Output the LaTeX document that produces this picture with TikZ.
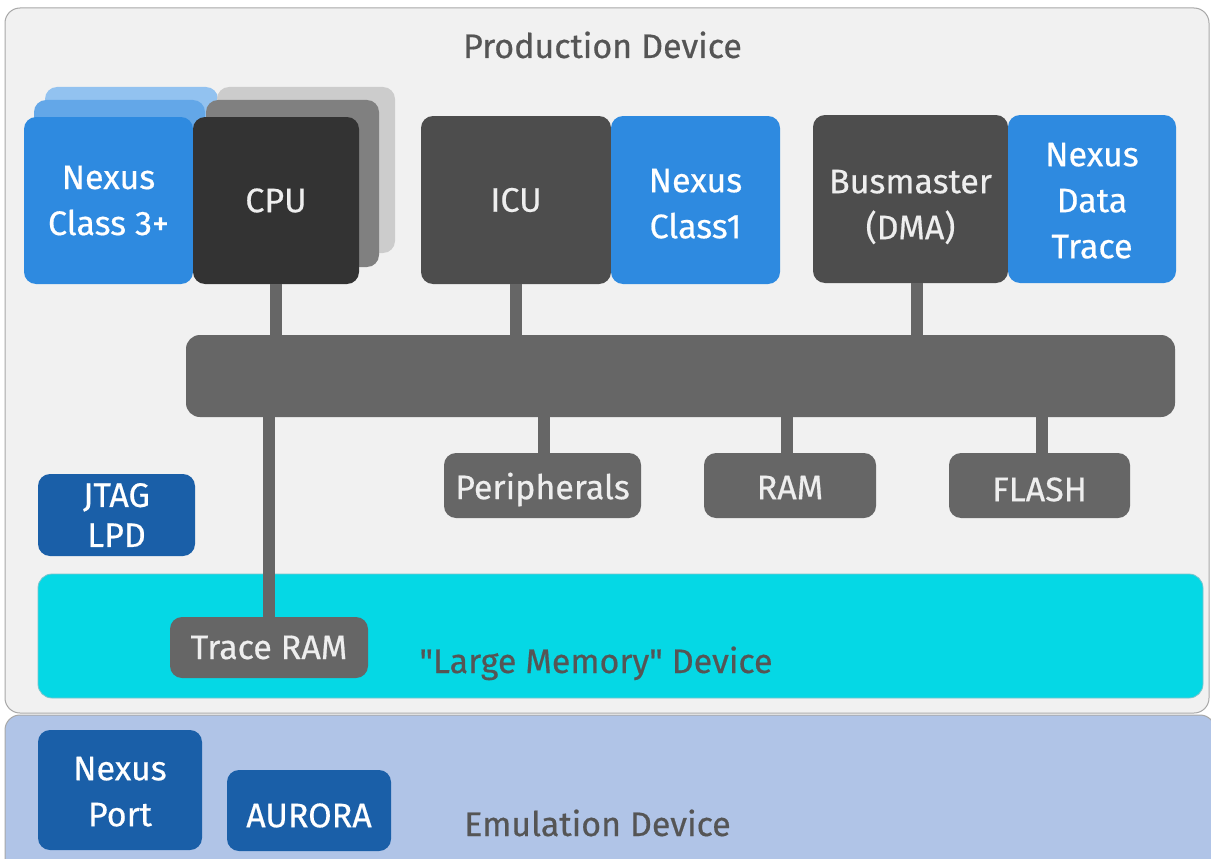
\documentclass[tikz,border=0pt]{standalone}
\usepackage{fontspec}
\setmainfont{Fira Sans}[Ligatures=TeXOff, FakeBold=0.5]
\usetikzlibrary{calc}
\newcommand\lowtext[2]{\raisebox{-#1}[\height][\depth]{\begin{tabular}{@{}c@{}}#2\end{tabular}}}
\definecolor{prodbg}{HTML}{F1F1F1}
\definecolor{bordergray}{HTML}{A8A8A8}
\definecolor{emubg}{HTML}{B0C4E7}
\definecolor{nxblue}{HTML}{2E8AE0}
\definecolor{nxblueB}{HTML}{63A7E8}
\definecolor{nxblueC}{HTML}{92C2F0}
\definecolor{cpudark}{HTML}{333333}
\definecolor{grayB}{HTML}{808080}
\definecolor{grayC}{HTML}{CCCCCC}
\definecolor{unitdark}{HTML}{4D4D4D}
\definecolor{busgray}{HTML}{666666}
\definecolor{darkblue}{HTML}{1A5FA8}
\definecolor{cyanmem}{HTML}{05D8E5}
\definecolor{cyanedge}{HTML}{7CC4CC}
\definecolor{lblgray}{HTML}{555555}
\definecolor{lighttext}{HTML}{EEEEEE}
\begin{document}
\begin{tikzpicture}[x=1pt,y=-1pt,
  box/.style={rounded corners=12pt, inner sep=0pt, outer sep=0pt, align=center,
    font=\fontsize{34}{46}\selectfont},
  bluebox/.style={box, fill=nxblue, text=white},
  darkbox/.style={box, fill=unitdark, text=lighttext},
  graybox/.style={box, fill=busgray, text=lighttext},
  navybox/.style={box, fill=darkblue, text=white},
  conn/.style={draw=busgray, line width=12pt},
  lbl/.style={anchor=base, text=lblgray, inner sep=0pt, font=\fontsize{34}{40}\selectfont}]
\useasboundingbox (0,0) rectangle (1211,859);
\clip (0,0) rectangle (1211,859);
\fill[white] (0,0) rectangle (1211,859);
% containers
\node[draw=bordergray, fill=prodbg, line width=1pt, rounded corners=15pt, inner sep=0pt,
  minimum width=1204pt, minimum height=705pt] (prod) at (607,360.5) {};
\node[draw=bordergray, fill=emubg, line width=1pt, rounded corners=15pt, inner sep=0pt,
  minimum width=1210pt, minimum height=160pt] (emu) at (610,795) {};
\node[lbl] (prodlbl) at (602.5,58) {Production Device};
\node[lbl] (emulbl) at (597.5,836) {Emulation Device};
% large memory device
\node[box, draw=cyanedge, line width=0.8pt, fill=cyanmem, rounded corners=14pt,
  minimum width=1165pt, minimum height=124pt] (lm) at (620.5,636) {};
\node[lbl] (lmlbl) at (596,673) {"Large Memory" Device};
% stacked layers behind Nexus Class 3+ and CPU
\node[box, fill=nxblueC, minimum width=173pt, minimum height=166pt] (nl2) at (131.5,170) {};
\node[box, fill=grayC, minimum width=178pt, minimum height=166pt] (gl2) at (306,170) {};
\node[box, fill=nxblueB, minimum width=171pt, minimum height=167pt] (nl1) at (119.5,183.5) {};
\node[box, fill=grayB, minimum width=173pt, minimum height=167pt] (gl1) at (292.5,183.5) {};
\node[bluebox, minimum width=169pt, minimum height=167pt] (nc3) at (108.5,200.5) {Nexus\\Class 3+};
\node[box, fill=cpudark, text=lighttext, minimum width=166pt, minimum height=167pt] (cpu) at (276,200.5) {CPU};
% ICU / Nexus Class1
\node[darkbox, minimum width=190pt, minimum height=168pt] (icu) at (516,200) {ICU};
\node[bluebox, minimum width=169pt, minimum height=168pt] (nc1) at (695.5,200) {\lowtext{6pt}{Nexus\\Class1}};
% Busmaster / Nexus Data Trace
\node[darkbox, minimum width=195pt, minimum height=168pt] (bm) at (910.5,199) {\lowtext{8pt}{Busmaster\\(DMA)}};
\node[bluebox, minimum width=168pt, minimum height=168pt] (ndt) at (1092,199) {\lowtext{4pt}{Nexus\\Data\\Trace}};
% bus
\node[box, fill=busgray, rounded corners=14pt, minimum width=989pt, minimum height=82pt] (bus) at (680.5,376) {};
% slaves
\node[graybox, minimum width=197pt, minimum height=65pt] (per) at (542.5,485.5) {\raisebox{-4pt}[\height][\depth]{Peripherals}};
\node[graybox, minimum width=172pt, minimum height=65pt] (ram) at (790,485.5) {\raisebox{-2pt}[\height][\depth]{RAM}};
\node[graybox, minimum width=181pt, minimum height=65pt] (flash) at (1039.5,485.5) {\raisebox{-4pt}[\height][\depth]{FLASH}};
\node[graybox, minimum width=198pt, minimum height=61pt] (tram) at (269,647.5) {Trace RAM};
% JTAG / emulation blocks
\node[navybox, font=\fontsize{34}{40}\selectfont, minimum width=157pt, minimum height=82pt] (jtag) at (116.5,515) {JTAG\\LPD};
\node[navybox, minimum width=164pt, minimum height=120pt] (nport) at (120,790) {\lowtext{4pt}{Nexus\\Port}};
\node[navybox, minimum width=164pt, minimum height=81pt] (aurora) at (309,810.5) {\raisebox{-5pt}[\height][\depth]{AURORA}};
% connectors
\draw[conn] (cpu.south) -- (cpu.south |- bus.north);
\draw[conn] (icu.south) -- (icu.south |- bus.north);
\draw[conn] ($(bm.south)+(6.5,0)$) -- ($(bm.south |- bus.north)+(6.5,0)$);
\draw[conn] ($(per.north)+(1.5,0)$) -- ($(per.north |- bus.south)+(1.5,0)$);
\draw[conn] ($(ram.north)+(-3,0)$) -- ($(ram.north |- bus.south)+(-3,0)$);
\draw[conn] ($(flash.north)+(2,0)$) -- ($(flash.north |- bus.south)+(2,0)$);
\draw[conn] (tram.north) -- (tram.north |- bus.south);
\end{tikzpicture}
\end{document}
